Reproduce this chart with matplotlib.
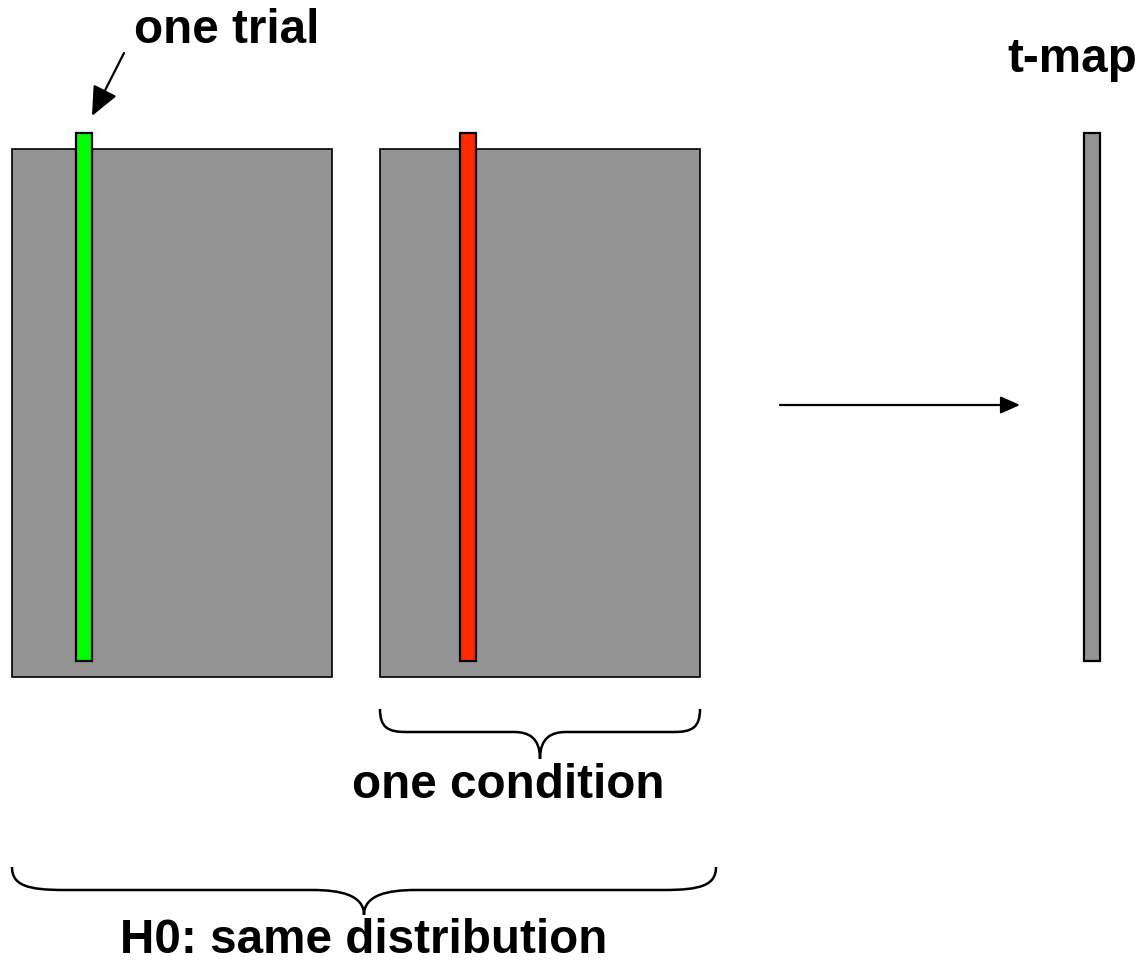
import matplotlib
matplotlib.use('Agg')
import matplotlib.pyplot as plt
from matplotlib.patches import Rectangle, PathPatch
from matplotlib.path import Path

# diagram elements in pixel units (x0, y0, x1, y1), y grows downward
panels = [(12, 150, 332, 678), (380, 150, 700, 678)]
bars = [(76, 134, 92, 662), (460, 134, 476, 662), (1084, 134, 1100, 662)]
bar_colors = ['#00ff00', '#ff2a00', '#939393']
panel_color = '#939393'

labels = ['one trial', 't-map', 'one condition', 'H0: same distribution']
label_pos = [(227, 43), (1072, 72), (508, 798), (364, 953)]

# braces: (x_left, x_right, y_top, y_line, y_tip, curve width)
braces = [(380, 700, 710, 733, 760, 26), (12, 716, 868, 891, 916, 52)]

arrows = [((124, 54), (92, 117)), ((780, 406), (1020, 406))]
head_sizes = [40, 26]


def brace_path(x0, x1, yt, yl, ytip, r=24):
    xm = (x0 + x1) / 2
    verts = [(x0, yt),
             (x0, yt + (yl - yt) * 0.8), (x0 + r * 0.3, yl), (x0 + r, yl),
             (xm - r, yl),
             (xm - r * 0.45, yl), (xm, yl + (ytip - yl) * 0.2), (xm, ytip),
             (xm, yl + (ytip - yl) * 0.2), (xm + r * 0.45, yl), (xm + r, yl),
             (x1 - r, yl),
             (x1 - r * 0.3, yl), (x1, yt + (yl - yt) * 0.8), (x1, yt)]
    codes = [Path.MOVETO,
             Path.CURVE4, Path.CURVE4, Path.CURVE4,
             Path.LINETO,
             Path.CURVE4, Path.CURVE4, Path.CURVE4,
             Path.CURVE4, Path.CURVE4, Path.CURVE4,
             Path.LINETO,
             Path.CURVE4, Path.CURVE4, Path.CURVE4]
    return Path(verts, codes)


fig = plt.figure(figsize=(11.41, 9.62), dpi=100)
ax = fig.add_axes([0, 0, 1, 1])
ax.set_xlim(0, 1141)
ax.set_ylim(962, 0)
ax.axis('off')

for x0, y0, x1, y1 in panels:
    ax.add_patch(Rectangle((x0, y0), x1 - x0, y1 - y0, facecolor=panel_color,
                           edgecolor='black', linewidth=1.2))
for (x0, y0, x1, y1), c in zip(bars, bar_colors):
    ax.add_patch(Rectangle((x0, y0), x1 - x0, y1 - y0, facecolor=c,
                           edgecolor='black', linewidth=1.6, zorder=3))

for b in braces:
    ax.add_patch(PathPatch(brace_path(*b[:5], r=b[5]), facecolor='none',
                           edgecolor='black', linewidth=1.8))

for (start, end), hs in zip(arrows, head_sizes):
    ax.annotate('', xy=end, xytext=start,
                arrowprops=dict(arrowstyle='-|>,head_length=0.45,head_width=0.2',
                                color='black', lw=1.6,
                                mutation_scale=hs, shrinkA=0, shrinkB=0))

for txt, (x, y) in zip(labels, label_pos):
    ax.text(x, y, txt, ha='center', va='baseline', fontsize=34.3,
            fontweight='bold', family='Liberation Sans')

fig.savefig('out.png', dpi=100)
